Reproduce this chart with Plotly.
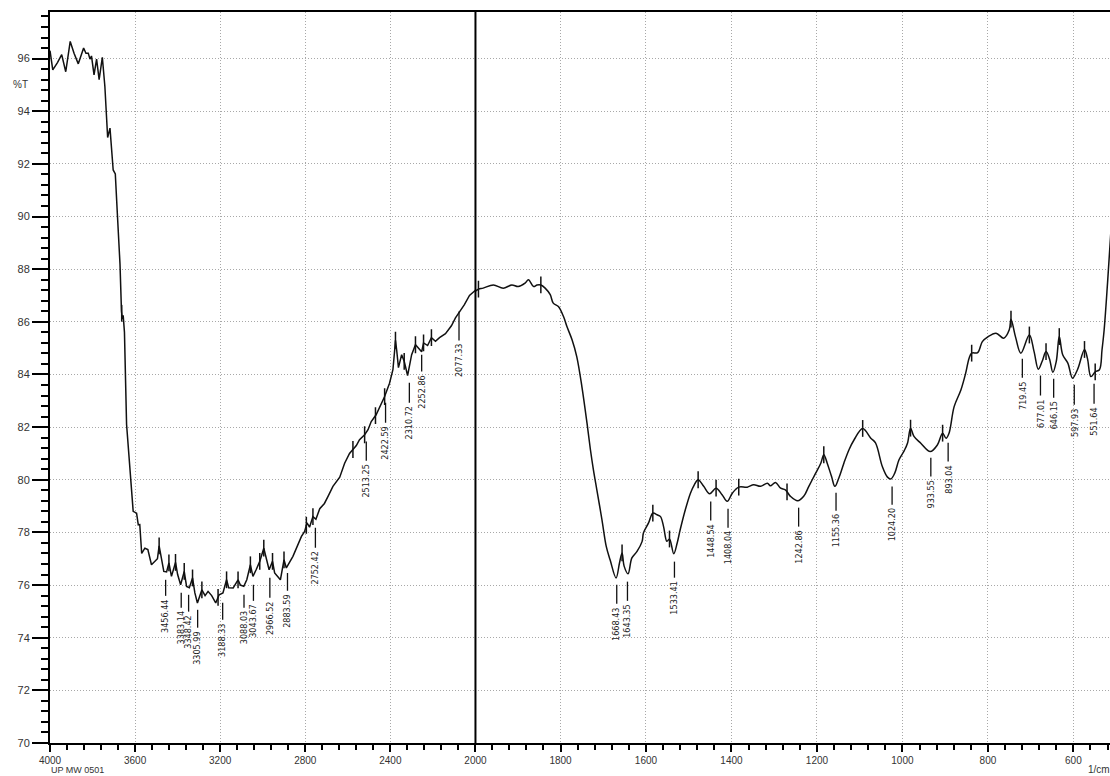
import numpy as np
import plotly.graph_objects as go

# ---------------- data ----------------
# Left panel: 4000 -> 2000 1/cm
wn_left = [4000, 3987, 3965, 3945, 3926, 3905, 3887, 3867, 3842, 3831, 3820, 3812, 3805, 3793,
           3781, 3769, 3754, 3742, 3729, 3718, 3703, 3693, 3684, 3671, 3664, 3660, 3656, 3650,
           3640, 3624, 3609, 3593, 3585, 3578, 3569, 3554, 3540, 3523, 3505, 3495, 3487, 3475,
           3465, 3452, 3441, 3429, 3410, 3400, 3386, 3369, 3358, 3345, 3330, 3319, 3307, 3286,
           3271, 3257, 3240, 3221, 3205, 3187, 3170, 3160, 3139, 3116, 3105, 3089, 3075, 3058,
           3046, 3030, 3014, 2995, 2983, 2970, 2954, 2944, 2917, 2900, 2889, 2858, 2818, 2803,
           2792, 2780, 2764, 2750, 2732, 2710, 2693, 2670, 2638, 2615, 2592, 2577, 2560, 2545,
           2521, 2505, 2490, 2467, 2443, 2427, 2404, 2388, 2380, 2376, 2370, 2362, 2347, 2335,
           2319, 2300, 2282, 2253, 2244, 2225, 2207, 2188, 2169, 2141, 2113, 2094, 2075, 2052,
           2028, 2000]
t_left = [96.3, 95.57, 95.85, 96.15, 95.5, 96.65, 96.2, 95.8, 96.4, 96.2, 96.2, 95.98, 96.1, 95.38,
          95.98, 95.2, 96.05, 94.94, 93.0, 93.36, 91.77, 91.62, 90.2, 88.2, 86.4, 86.1, 86.25, 85.6,
          82.1, 80.25, 78.8, 78.73, 78.29, 78.3, 77.2, 77.4, 77.35, 76.77, 76.9, 77.0, 77.49, 76.95,
          76.52, 76.5, 76.84, 76.33, 76.86, 76.4, 76.01, 76.52, 75.95, 75.9, 76.27, 75.7, 75.32, 75.82,
          75.6, 75.76, 75.6, 75.32, 75.63, 75.7, 76.2, 75.9, 75.89, 76.2, 76.0, 75.95, 76.2, 76.77,
          76.33, 76.6, 76.9, 77.4, 76.96, 76.58, 76.9, 76.46, 76.2, 76.96, 76.65, 77.09, 77.85, 78.04,
          78.36, 78.2, 78.6, 78.5, 78.9, 79.1, 79.37, 79.75, 80.1, 80.63, 81.0, 81.14, 81.3, 81.52,
          81.71, 81.9, 82.21, 82.47, 82.91, 83.16, 83.67, 84.18, 84.9, 85.3, 84.9, 84.26, 84.75, 84.5,
          83.96, 84.75, 85.13, 84.86, 85.2, 85.1, 85.4, 85.26, 85.4, 85.55, 85.85, 86.15, 86.38, 86.65,
          87.0, 87.2]

# Right panel: 2000 -> ~512 1/cm
wn_right = [2000, 1992, 1981, 1957, 1934, 1914, 1899, 1883, 1875, 1863, 1855, 1846, 1836, 1824,
            1817, 1805, 1793, 1785, 1773, 1762, 1750, 1738, 1730, 1723, 1715, 1703, 1693, 1684,
            1670, 1662, 1656, 1651, 1642, 1633, 1621, 1609, 1606, 1594, 1584, 1574, 1566, 1559,
            1551, 1545, 1535, 1527, 1520, 1508, 1496, 1487, 1478, 1465, 1451, 1436, 1422, 1410,
            1398, 1383, 1363, 1348, 1332, 1316, 1309, 1297, 1285, 1274, 1262, 1245, 1231, 1219,
            1203, 1191, 1184, 1176, 1166, 1158, 1149, 1137, 1125, 1113, 1093, 1074, 1063, 1047,
            1035, 1027, 1018, 1008, 996, 988, 981, 973, 957, 935, 918, 906, 898, 891, 879, 863,
            852, 844, 838, 824, 813, 801, 781, 763, 750, 746, 735, 723, 703, 692, 682, 673, 664,
            656, 648, 640, 633, 625, 613, 602, 590, 574, 567, 559, 549, 539, 533, 528, 520, 512]
t_right = [87.15, 87.24, 87.28, 87.4, 87.28, 87.4, 87.34, 87.47, 87.6, 87.34, 87.4, 87.4, 87.28, 87.03,
           86.71, 86.58, 86.2, 85.82, 85.32, 84.68, 83.54, 82.15, 81.14, 80.38, 79.62, 78.48, 77.47, 76.96,
           76.27, 76.84, 77.22, 76.71, 76.43, 77.03, 77.28, 77.66, 77.98, 78.36, 78.73, 78.67, 78.6, 78.23,
           77.66, 77.75, 77.19, 77.6, 78.1, 78.86, 79.49, 79.81, 80.0, 79.75, 79.47, 79.68, 79.43, 79.18,
           79.49, 79.72, 79.72, 79.81, 79.75, 79.87, 79.77, 79.9, 79.68, 79.62, 79.37, 79.2, 79.37, 79.75,
           80.25, 80.63, 80.95, 80.63, 80.13, 79.75, 80.06, 80.63, 81.14, 81.52, 81.95, 81.58, 81.4, 80.5,
           80.1, 80.03, 80.25, 80.76, 81.1, 81.4, 81.96, 81.65, 81.39, 81.07, 81.33, 81.77, 81.58, 81.77, 82.78, 83.42,
           84.05, 84.62, 84.81, 84.83, 85.25, 85.42, 85.57, 85.38, 85.7, 86.1, 85.4, 84.81, 85.5, 84.87, 84.2, 84.5, 84.87,
           84.6, 84.08, 84.5, 85.44, 84.75, 84.43, 83.86, 84.2, 84.95, 84.6, 83.92, 84.1, 84.18, 84.94, 85.7, 87.5, 89.5]

# Peak picks
peaks_left = [3456.44, 3383.14, 3348.42, 3305.99, 3188.33, 3088.03, 3043.67, 2966.52, 2883.59,
              2752.42, 2513.25, 2422.59, 2310.72, 2252.86, 2077.33]
peaks_right = [1668.43, 1643.35, 1533.41, 1448.54, 1408.04, 1242.86, 1155.36, 1024.20, 933.55,
               893.04, 719.45, 677.01, 646.15, 597.93, 551.64]

# Small shoulder marks on the trace
marks_left = [3663, 3487, 3441, 3410, 3369, 3330, 3286, 3210, 3170, 3116, 3058, 3014, 2995, 2954,
              2900, 2795, 2764, 2576, 2521, 2470, 2427, 2376, 2335, 2282, 2244, 2207]
marks_right = [1992, 1846, 1656, 1584, 1545, 1478, 1436, 1383, 1270, 1184, 1093, 981, 906, 838,
               746, 703, 664, 633, 574, 549]

# ---------------- label-line placement (layout) ----------------
lab_top_left = [76.20, 75.71, 75.63, 75.06, 75.33, 75.63, 76.01, 76.28, 76.46, 78.18, 81.45, 82.93, 83.69, 84.75, 86.39]
lab_bot_left = [75.59, 75.14, 74.99, 74.38, 74.68, 75.14, 75.40, 75.52, 75.78, 77.42, 80.72, 82.17, 82.93, 84.11, 85.29]
lab_top_right = [76.01, 76.13, 76.89, 79.17, 78.90, 78.94, 79.51, 79.74, 80.84, 81.41, 84.60, 83.96, 83.84, 83.61, 83.65]
lab_bot_right = [75.29, 75.40, 76.28, 78.45, 78.18, 78.22, 78.82, 79.05, 80.12, 80.69, 83.88, 83.20, 83.12, 82.85, 82.89]

LINE_COLOR = "#111111"
TICK_FONT = dict(family="Liberation Sans, Arial, sans-serif", size=11, color="#333333")
XTICK_FONT = dict(TICK_FONT, size=10)
PEAK_FONT = dict(family="Liberation Sans Narrow, DejaVu Sans Condensed, Arial Narrow, sans-serif",
                 size=9, color="#222222")
SPLIT = 0.401
W, H = 1123, 776

fig = go.Figure()


def seg_xy(xs, tops, bots):
    sx, sy = [], []
    for x, a, b in zip(xs, tops, bots):
        sx += [x, x, None]
        sy += [a, b, None]
    return sx, sy


# peak pick lines
for xs, tops, bots, ax in [(peaks_left, lab_top_left, lab_bot_left, "x"),
                           (peaks_right, lab_top_right, lab_bot_right, "x2")]:
    sx, sy = seg_xy(xs, tops, bots)
    fig.add_trace(go.Scatter(x=sx, y=sy, xaxis=ax, yaxis="y", mode="lines",
                             line=dict(color=LINE_COLOR, width=1.3), hoverinfo="skip",
                             showlegend=False))

# spectrum
fig.add_trace(go.Scatter(x=wn_left, y=t_left, xaxis="x", yaxis="y", mode="lines",
                         line=dict(color=LINE_COLOR, width=1.5), showlegend=False))
fig.add_trace(go.Scatter(x=wn_right, y=t_right, xaxis="x2", yaxis="y", mode="lines",
                         line=dict(color=LINE_COLOR, width=1.5), line_shape="spline",
                         showlegend=False))

# shoulder marks
for marks, wn, tt, ax in [(marks_left, wn_left, t_left, "x"), (marks_right, wn_right, t_right, "x2")]:
    yv = np.interp(marks, wn[::-1], tt[::-1])
    fig.add_trace(go.Scatter(x=marks, y=yv, xaxis=ax, yaxis="y", mode="markers",
                             marker=dict(symbol="line-ns", size=12,
                                         line=dict(color=LINE_COLOR, width=1.5)),
                             hoverinfo="skip", showlegend=False))

# peak text
annotations = []
for xs, bots, ax in [(peaks_left, lab_bot_left, "x"), (peaks_right, lab_bot_right, "x2")]:
    for x, b in zip(xs, bots):
        annotations.append(dict(x=x, y=b, xref=ax, yref="y", text=f"{x:.2f}", textangle=-90,
                                showarrow=False, xanchor="center", yanchor="top", yshift=-2,
                                font=PEAK_FONT))

annotations += [
    dict(x=-0.028, y=95.0, xref="paper", yref="y", text="%T", showarrow=False,
         xanchor="center", yanchor="middle", font=dict(TICK_FONT, size=10)),
    dict(x=0.0, y=-0.0451, xref="paper", yref="paper", text="UP MW 0501", showarrow=False,
         xanchor="left", yanchor="bottom", borderpad=0, font=dict(TICK_FONT, size=9)),
    dict(x=1.0, y=-0.0451, xref="paper", yref="paper", text="1/cm", showarrow=False,
         xanchor="right", yanchor="bottom", borderpad=0, font=dict(TICK_FONT, size=10)),
]

axis_common = dict(
    ticks="outside", tickcolor="black", tickwidth=1.5,
    showgrid=True, gridcolor="#a8a8a8", griddash="1px,2px", gridwidth=1,
    showline=True, linecolor="black", zeroline=False,
    tickfont=TICK_FONT,
)

fig.update_layout(
    width=W, height=H, autosize=False,
    margin=dict(l=50, r=0, t=12, b=33),
    paper_bgcolor="white", plot_bgcolor="white",
    showlegend=False,
    annotations=annotations,
    xaxis=dict(axis_common, domain=[0, SPLIT], range=[4000, 2000], tickmode="linear", tick0=0,
               dtick=400, ticklen=7, linewidth=1.5, mirror=True, anchor="y", tickfont=XTICK_FONT,
               minor=dict(dtick=80, ticks="outside", ticklen=5, tickcolor="black", tickwidth=1.5,
                          showgrid=False)),
    xaxis2=dict(axis_common, domain=[SPLIT, 1], range=[1999, 512], tickmode="linear", tick0=0,
                dtick=200, ticklen=7, linewidth=1.5, mirror=True, anchor="y", tickfont=XTICK_FONT,
                minor=dict(dtick=40, ticks="outside", ticklen=5, tickcolor="black", tickwidth=1.5,
                           showgrid=False)),
    yaxis=dict(axis_common, range=[70, 97.77], tickmode="linear", tick0=0, dtick=2, ticklen=16,
               linewidth=2,
               minor=dict(dtick=0.4, ticks="outside", ticklen=7, tickcolor="black", tickwidth=1.5,
                          showgrid=False)),
    shapes=[dict(type="line", xref="paper", yref="paper", x0=SPLIT, x1=SPLIT, y0=0, y1=1,
                 line=dict(color="black", width=2))],
)

post = ("document.documentElement.style.overflow='hidden';"
        "document.body.style.margin='0';document.body.style.padding='0';"
        "document.body.style.overflow='hidden';")

fig.write_html("out.html", config={"displayModeBar": False},
               post_script=post)
